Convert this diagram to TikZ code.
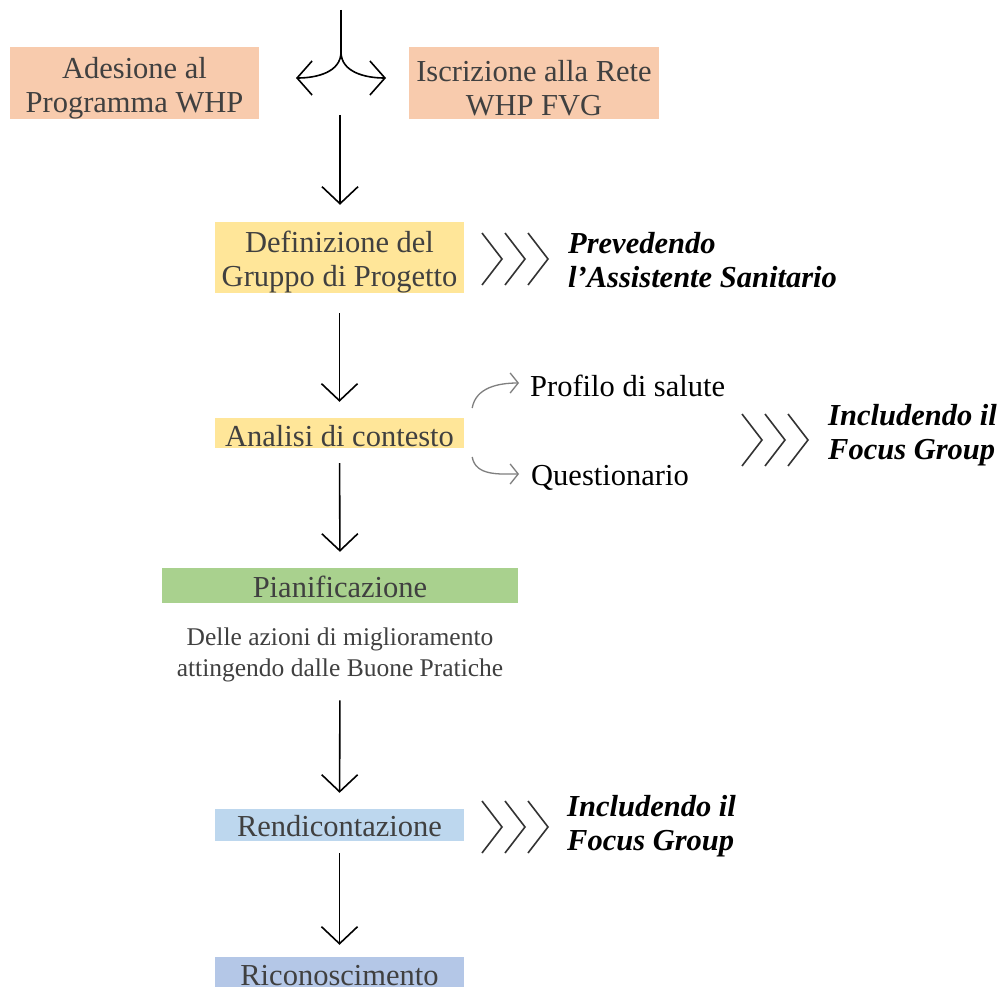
\documentclass[tikz,border=0pt]{standalone}
\usepackage{fontspec}
\setmainfont{Liberation Serif}
\usetikzlibrary{arrows.meta}
\definecolor{peach}{HTML}{F8CBAD}
\definecolor{lyellow}{HTML}{FFE699}
\definecolor{lgreen}{HTML}{A9D18E}
\definecolor{lblue}{HTML}{BDD7EE}
\definecolor{mblue}{HTML}{B4C7E7}
\definecolor{boxtext}{HTML}{404040}
\definecolor{chevcol}{HTML}{333333}
\definecolor{curvegray}{HTML}{7F7F7F}
\newcommand\chevs[2]{\foreach \i in {0,1,2}{\draw[chev] ({#1+23*\i},{#2-26}) -- ({#1+23*\i+20},{#2}) -- ({#1+23*\i},{#2+26});}}
\begin{document}
\begin{tikzpicture}[x=1pt,y=-1pt,
  box/.style={fill=#1, draw=none, inner sep=0pt},
  boxlabel/.style={inner sep=0pt, align=center, text=boxtext,
    font=\fontsize{30.5}{34}\selectfont},
  side/.style={anchor=west, inner sep=0pt, align=left, text=black,
    font=\fontsize{30.5}{34}\selectfont\bfseries\itshape},
  plain/.style={anchor=west, inner sep=0pt, text=black,
    font=\fontsize{30.5}{34}\selectfont},
  desc/.style={inner sep=0pt, align=center, text=boxtext,
    font=\fontsize{25.5}{31}\selectfont},
  flow/.style={draw=black, line width=1.6pt,
    -{Straight Barb[length=17pt,width=36pt]}},
  fork/.style={draw=black, line width=1.6pt,
    -{Straight Barb[length=15pt,width=34pt]}},
  branch/.style={draw=curvegray, line width=1.3pt,
    -{Straight Barb[length=8pt,width=20pt]}},
  chev/.style={draw=chevcol, line width=1.6pt}
]
\useasboundingbox[fill=white] (0,0) rectangle (1002,987);

% boxes
\node[box=peach, minimum width=249pt, minimum height=72pt] (ade) at (134.5,83) {};
\node[boxlabel] (adeT) at ([yshift=-5pt]ade.center) {Adesione al\\Programma WHP};
\node[box=peach, minimum width=250pt, minimum height=72pt] (isc) at (534,83) {};
\node[boxlabel] (iscT) at ([yshift=-5pt]isc.center) {Iscrizione alla Rete\\WHP FVG};
\node[box=lyellow, minimum width=249pt, minimum height=71pt] (def) at (339.5,257.5) {};
\node[boxlabel] (defT) at ([yshift=-5pt]def.center) {Definizione del\\Gruppo di Progetto};
\node[box=lyellow, minimum width=249pt, minimum height=30pt] (ana) at (339.5,433) {};
\node[boxlabel] (anaT) at ([yshift=-3pt]ana.center) {Analisi di contesto};
\node[box=lgreen, minimum width=356pt, minimum height=35pt] (pia) at (340,585.5) {};
\node[boxlabel] (piaT) at ([yshift=-1pt]pia.center) {Pianificazione};
\node[desc] (dsc) at (340,655) {Delle azioni di miglioramento\\attingendo dalle Buone Pratiche};
\node[box=lblue, minimum width=249pt, minimum height=32pt] (ren) at (339.5,825) {};
\node[boxlabel] (renT) at ([yshift=-1pt]ren.center) {Rendicontazione};
\node[box=mblue, minimum width=249pt, minimum height=34pt] (ric) at (339.5,974) {};
\node[boxlabel] (ricT) at ([yshift=-2pt]ric.center) {Riconoscimento};

% side texts
\node[side] (prev) at (568,260) {Prevedendo\\l’Assistente Sanitario};
\node[plain] (prof) at (530,386) {Profilo di salute};
\node[plain] (que) at (531,478) {Questionario};
\node[side] (inc1) at (828,435) {Includendo il\\Focus Group};
\node[side] (inc2) at (567,826) {Includendo il\\Focus Group};

% top fork
\coordinate (top) at (341,10);
\coordinate (fk) at (341,52);
\coordinate (fl) at (296,78);
\coordinate (fr) at (386,78);
\draw[line width=1.6pt] (top) -- (fk);
\draw[fork] (fk) to[out=-90,in=0] (fl);
\draw[fork] (fk) to[out=-90,in=180] (fr);

% main flow
\coordinate (m1) at (340,115);
\draw[flow, shorten >=17pt] (m1) -- (m1 |- def.north);
\draw[flow, shorten <=20pt, shorten >=16pt] (def.south) -- (ana.north);
\draw[flow, shorten <=15pt, shorten >=16pt] (ana.south) -- (pia.north);
\draw[flow, shorten <=18pt, shorten >=16pt] (dsc.south) -- (ren.north);
\draw[flow, shorten <=12pt, shorten >=12pt] (ren.south) -- (ric.north);

% branches
\draw[branch] ([xshift=8pt,yshift=25pt]ana.east) to[out=80,in=180] ([xshift=-11pt,yshift=3pt]prof.west);
\draw[branch] ([xshift=8pt,yshift=-24pt]ana.east) to[out=-80,in=180] ([xshift=-12pt,yshift=4pt]que.west);

% chevrons
\chevs{482}{259}
\chevs{742}{440}
\chevs{482}{827}
\end{tikzpicture}
\end{document}
